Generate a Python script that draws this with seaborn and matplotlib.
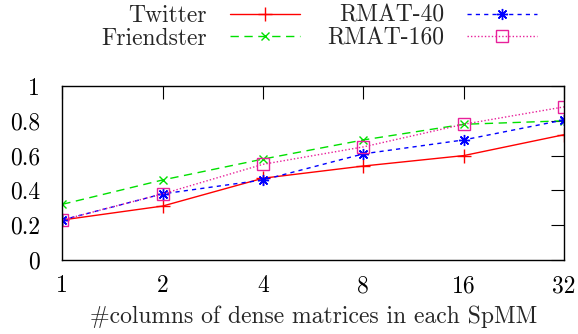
import matplotlib
matplotlib.use("Agg")
import matplotlib.pyplot as plt
import seaborn as sns
import pandas as pd

x_values = [1, 2, 4, 8, 16, 32]
twitter = [0.23, 0.31, 0.47, 0.54, 0.60, 0.72]
friendster = [0.32, 0.46, 0.58, 0.69, 0.78, 0.80]
rmat40 = [0.23, 0.38, 0.46, 0.61, 0.69, 0.805]
rmat160 = [0.23, 0.38, 0.55, 0.65, 0.78, 0.88]
series_names = ["Twitter", "Friendster", "RMAT-40", "RMAT-160"]
x_label = "#columns of dense matrices in each SpMM"
y_ticks = [0, 0.2, 0.4, 0.6, 0.8, 1]
y_tick_labels = ["0", "0.2", "0.4", "0.6", "0.8", "1"]

sns.set_theme(style="white")
plt.rcParams["font.family"] = ["cmr10", "DejaVu Serif"]
plt.rcParams["axes.formatter.use_mathtext"] = True
plt.rcParams["mathtext.fontset"] = "cm"

FS = 17

fig = plt.figure(figsize=(5.78, 3.34), dpi=100)
ax = fig.add_axes([62.3 / 578, 1 - 260 / 334, (564 - 62.3) / 578, (260 - 86) / 334])

styles = {
    "Twitter": dict(color="#ff0000", linestyle="-", marker="+", markersize=10, mew=1.0),
    "Friendster": dict(color="#00e000", linestyle=(0, (6, 4)), marker="x", markersize=6, mew=1.0),
    "RMAT-40": dict(color="#0000ff", linestyle=(0, (3, 3)), marker=(8, 2, 0), markersize=8, mew=1.0),
    "RMAT-160": dict(color="#e8209a", linestyle=(0, (1, 1.5)), marker="s", markersize=8, mew=1.0,
                     markerfacecolor="none"),
}
data = {"Twitter": twitter, "Friendster": friendster, "RMAT-40": rmat40, "RMAT-160": rmat160}

for name in series_names:
    df = pd.DataFrame({"x": x_values, "y": data[name]})
    st = dict(styles[name])
    kw = dict(color=st.pop("color"), linestyle=st.pop("linestyle"), marker=st.pop("marker"),
              markersize=st.pop("markersize"), markeredgewidth=st.pop("mew"))
    if "markerfacecolor" in st:
        kw["markerfacecolor"] = st.pop("markerfacecolor")
    kw["markeredgecolor"] = kw["color"]
    sns.lineplot(data=df, x="x", y="y", ax=ax, label=name, linewidth=1.0, **kw)

ax.set_xscale("log", base=2)
ax.set_xlim(1, 32)
ax.set_ylim(0, 1)
ax.set_xticks(x_values)
ax.set_xticklabels([str(v) for v in x_values])
ax.minorticks_off()
ax.set_yticks(y_ticks)
ax.set_yticklabels(y_tick_labels)
ax.set_xlabel(x_label, fontsize=FS, labelpad=6)
ax.set_ylabel("")
ax.tick_params(axis="both", which="major", direction="in", length=9.5, width=0.8,
               top=True, right=True, labelsize=FS, colors="black")
ax.tick_params(axis="x", pad=11)
ax.tick_params(axis="y", pad=16)
for sp in ax.spines.values():
    sp.set_color("black")
    sp.set_linewidth(1.0)

ax.legend(loc="upper center", bbox_to_anchor=(319 / 578, 1.0), bbox_transform=fig.transFigure,
          ncol=2, frameon=False, markerfirst=False, fontsize=FS, handlelength=2.97,
          columnspacing=1.15, handletextpad=0.98, labelspacing=0.03, borderaxespad=0.0,
          borderpad=0.2)

fig.savefig("out.png", dpi=100)
